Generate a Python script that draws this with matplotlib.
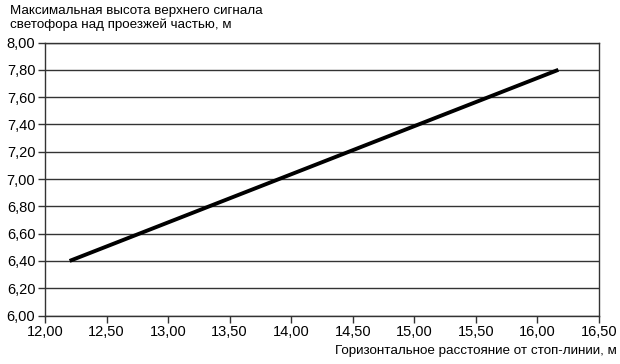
import matplotlib
matplotlib.use("Agg")
import matplotlib.pyplot as plt

plt.rcParams['font.family'] = ['Liberation Sans', 'DejaVu Sans']

distance = [12.20, 16.17]
height = [6.40, 7.80]
xticks = [12.0, 12.5, 13.0, 13.5, 14.0, 14.5, 15.0, 15.5, 16.0, 16.5]
yticks = [6.0, 6.2, 6.4, 6.6, 6.8, 7.0, 7.2, 7.4, 7.6, 7.8, 8.0]

fig = plt.figure(figsize=(6.2, 3.64), dpi=100)
ax = fig.add_axes([0.0726, 0.1332, 0.8935, 0.750])
ax.plot(distance, height, color='black', linewidth=2.8, solid_capstyle='butt')
ax.set_xlim(12.0, 16.5)
ax.set_ylim(6.0, 8.0)
ax.set_xticks(xticks)
ax.set_yticks(yticks)
fmt = lambda v: f"{v:.2f}".replace('.', ',')
ax.set_xticklabels([fmt(v) for v in xticks])
ax.set_yticklabels([fmt(v) for v in yticks])
ax.yaxis.grid(True, color='#333333', linewidth=1.0)
ax.set_axisbelow(True)
for s in ax.spines.values():
    s.set_color('#333333')
    s.set_linewidth(1.0)
ax.tick_params(axis='both', labelsize=10.5, color='#333333', length=5, width=1.0, pad=2)
fig.text(0.016, 0.985, "Максимальная высота верхнего сигнала\nсветофора над проезжей частью, м",
         ha='left', va='top', fontsize=9.6, linespacing=1.15)
fig.text(0.994, 0.02, "Горизонтальное расстояние от стоп-линии, м",
         ha='right', va='bottom', fontsize=9.6)
fig.savefig("out.png", dpi=100)
